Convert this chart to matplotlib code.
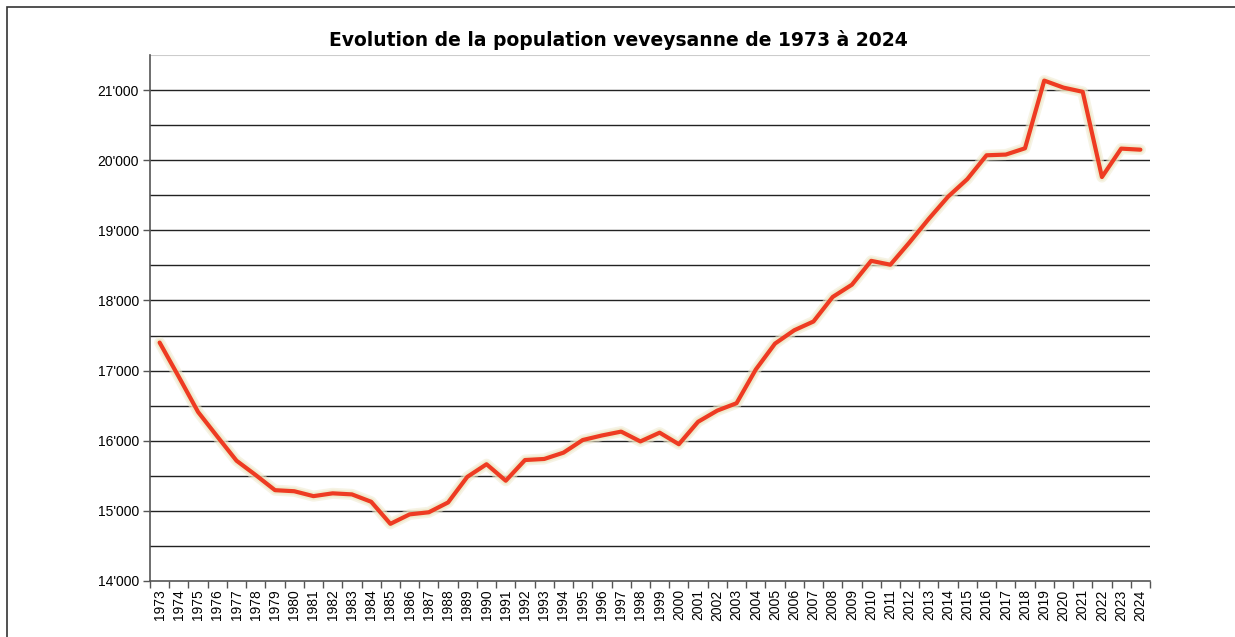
import matplotlib
matplotlib.use("Agg")
import matplotlib.pyplot as plt
import matplotlib.patheffects as pe
from matplotlib.patches import Rectangle
from matplotlib.ticker import FixedLocator, FuncFormatter, MultipleLocator

years = list(range(1973, 2025))
population = [17400, 16910, 16410, 16060, 15715, 15510, 15295, 15280, 15210, 15250,
              15235, 15130, 14815, 14950, 14980, 15120, 15485, 15665, 15430, 15725,
              15740, 15830, 16010, 16075, 16130, 15990, 16115, 15950, 16270, 16430,
              16535, 17015, 17385, 17575, 17700, 18050, 18225, 18565, 18510, 18830,
              19165, 19480, 19730, 20070, 20080, 20170, 21135, 21035, 20975, 19760,
              20165, 20150]
title = "Evolution de la population veveysanne de 1973 à 2024"

W, H = 1235, 637
fig = plt.figure(figsize=(W / 100, H / 100), dpi=100)
fig.patch.set_facecolor("white")

# outer frame
fig.add_artist(Rectangle((7 / W, -0.1), 1.2, (H - 7) / H + 0.1, transform=fig.transFigure,
                         fill=False, edgecolor="#333333", linewidth=1.2))

ax = fig.add_axes([150 / W, (H - 581) / H, 1000 / W, (581 - 55) / H])
x = list(range(len(years)))
ax.set_xlim(-0.5, len(years) - 0.5)
ax.set_ylim(14000, 21500)

# gridlines
for v in range(14500, 21500, 500):
    ax.axhline(v, color="#222222", linewidth=1.0, zorder=1)
ax.axhline(21500, color="#cccccc", linewidth=1.5, zorder=1)

ax.plot(x, population, color="#EE3B22", linewidth=3.0, solid_joinstyle="round",
        solid_capstyle="round", zorder=3,
        path_effects=[pe.Stroke(linewidth=8, foreground="#EFEAD0", alpha=0.55),
                      pe.Stroke(linewidth=5.5, foreground="#EDE5BE", alpha=0.6),
                      pe.Normal()])

for s in ["top", "right"]:
    ax.spines[s].set_visible(False)
ax.spines["left"].set_color("#555555")
ax.spines["bottom"].set_color("#555555")
ax.spines["left"].set_linewidth(1.2)
ax.spines["bottom"].set_linewidth(1.2)

ax.yaxis.set_major_locator(MultipleLocator(1000))
ax.yaxis.set_major_formatter(FuncFormatter(lambda v, p: f"{int(v) // 1000}'{int(v) % 1000:03d}"))
ax.tick_params(axis="y", length=5, width=1, color="#555555", labelsize=10, pad=3)

ax.set_xticks(x)
ax.set_xticklabels([str(y) for y in years], rotation=90, fontsize=10)
ax.xaxis.set_minor_locator(FixedLocator([i - 0.5 for i in range(len(years) + 1)]))
ax.tick_params(axis="x", which="major", length=0, pad=6)
ax.tick_params(axis="x", which="minor", length=5, width=1, color="#555555")

for lbl in ax.get_xticklabels() + ax.get_yticklabels():
    lbl.set_family("Liberation Sans")

fig.text(618 / W, 1 - 40 / H, title, ha="center", va="center", fontsize=13.5,
         fontweight="bold", family="DejaVu Sans")

fig.savefig("out.png", dpi=100, facecolor="white")
